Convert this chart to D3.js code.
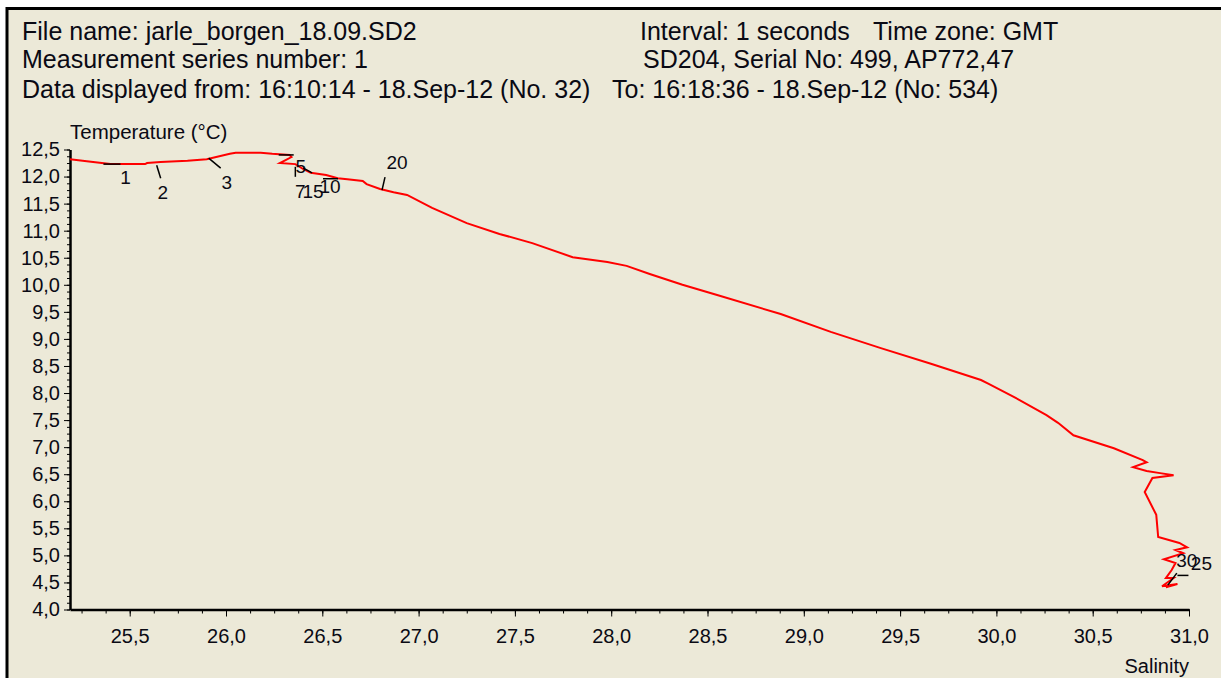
<!DOCTYPE html>
<html>
<head>
<meta charset="utf-8">
<script src="https://cdn.jsdelivr.net/npm/d3@7"></script>
<style>
  html, body { margin: 0; padding: 0; background: #ffffff; }
  svg { display: block; font-family: Arial, "Liberation Sans", sans-serif; }
</style>
</head>
<body>
<svg id="chart" width="1221" height="678"></svg>
<script>
// ---- header information ----
const headerLeft = [
  "File name: jarle_borgen_18.09.SD2",
  "Measurement series number: 1",
  "Data displayed from: 16:10:14 - 18.Sep-12 (No. 32)"
];
const headerRight = [
  "Interval: 1 seconds",
  "SD204, Serial No: 499, AP772,47",
  "To: 16:18:36 - 18.Sep-12 (No: 534)"
];
const headerTimeZone = "Time zone: GMT";

// ---- T/S profile (salinity vs temperature) ----
const salinity = [
  25.19, 25.31, 25.40, 25.58, 25.59, 25.66, 25.80, 25.90, 26.02, 26.05,
  26.18, 26.24, 26.33, 26.34, 26.28, 26.36, 26.40, 26.44, 26.52, 26.58,
  26.63, 26.71, 26.73, 26.80, 26.87, 26.94, 27.07, 27.25, 27.42, 27.59,
  27.80, 27.98, 28.08, 28.20, 28.37, 28.55, 28.88, 29.14, 29.40, 29.66,
  29.92, 29.96, 30.09, 30.26, 30.32, 30.40, 30.61, 30.76, 30.78, 30.71,
  30.78, 30.85, 30.92, 30.81, 30.77, 30.83, 30.84, 30.95, 30.99, 30.93,
  30.97, 30.87, 30.93, 30.91, 30.88, 30.92, 30.86, 30.94, 30.88
];
const temperature = [
  12.32, 12.27, 12.23, 12.23, 12.25, 12.27, 12.29, 12.32, 12.42, 12.44,
  12.44, 12.42, 12.40, 12.36, 12.25, 12.23, 12.14, 12.07, 12.03, 11.97,
  11.95, 11.92, 11.86, 11.77, 11.71, 11.66, 11.42, 11.14, 10.94, 10.77,
  10.51, 10.42, 10.35, 10.20, 10.00, 9.81, 9.46, 9.13, 8.83, 8.54,
  8.24, 8.17, 7.93, 7.59, 7.45, 7.22, 6.98, 6.76, 6.72, 6.63,
  6.56, 6.52, 6.48, 6.43, 6.17, 5.75, 5.34, 5.23, 5.15, 5.10,
  5.04, 4.93, 4.86, 4.73, 4.58, 4.58, 4.43, 4.47, 4.41
];

// ---- sample number markers along the profile ----
const markerNumbers = ["1", "2", "3", "5", "7", "15", "10", "20", "25", "30"];
const markerSalinity = [25.40, 25.64, 25.91, 26.31, 26.36, 26.40, 26.54, 26.81, 30.94, 30.89];
const markerTemperature = [12.23, 12.21, 12.34, 12.40, 12.18, 12.16, 11.96, 11.75, 4.63, 4.45];

// ---- axis ticks ----
const salinityTicks = [25.5, 26.0, 26.5, 27.0, 27.5, 28.0, 28.5, 29.0, 29.5, 30.0, 30.5, 31.0];
const temperatureTicks = [4.0, 4.5, 5.0, 5.5, 6.0, 6.5, 7.0, 7.5, 8.0, 8.5, 9.0, 9.5,
                          10.0, 10.5, 11.0, 11.5, 12.0, 12.5];

// leader line / label offsets (pixels) for each marker
const markerLayout = {
  "1":  { line: [-7, 0, 10, 0],  label: [15, 20] },
  "2":  { line: [0, 0, 4, 13],   label: [6, 34] },
  "3":  { line: [0, 0, 12, 10],  label: [18, 31] },
  "5":  { line: [-7, 0, 8, 0],   label: [15, 18] },
  "7":  { line: [0, 0, 0, 10],   label: [5, 31] },
  "15": { line: [0, 0, 9, 5],    label: [10, 30] },
  "10": { line: [-7, 0, 8, 0],   label: [0, 14] },
  "20": { line: [0, 0, 3, -13],  label: [15, -21] },
  "25": { line: [0, 0, 11, 0],   label: [24, -5] },
  "30": { line: [0, 0, 9, -12],  label: [19, -18] }
};

const fmt = d => d.toFixed(1).replace(".", ",");

const svg = d3.select("#chart");
const W = 1221, H = 678;

// panel background with the dark frame on its left and top edges
svg.append("rect")
  .attr("x", 7).attr("y", 8.5)
  .attr("width", W + 20).attr("height", H + 20)
  .attr("fill", "#ECE9D8")
  .attr("stroke", "#000").attr("stroke-width", 3);

// header lines
const hdr = svg.append("g").attr("font-size", 25).attr("fill", "#0a0a14");
const rowY = [40, 68, 98];
headerLeft.forEach((t, i) => hdr.append("text").attr("x", 22).attr("y", rowY[i]).text(t));
const rightX = [640, 643, 612];
headerRight.forEach((t, i) => hdr.append("text").attr("x", rightX[i]).attr("y", rowY[i]).text(t));
hdr.append("text").attr("x", 873).attr("y", rowY[0]).text(headerTimeZone);

// scales
const x = d3.scaleLinear().domain([d3.min(salinity), 31.0]).range([70, 1189]);
const y = d3.scaleLinear().domain([4.0, 12.5]).range([609.5, 149.5]);

// minor ticks (quarter steps between labelled ticks)
const xMinor = d3.range(25.25, 31.0001, 0.125).filter(v => v >= x.domain()[0]);
const yMinor = d3.range(4.0, 12.5001, 0.125);

const axisFont = 20;

// y axis
const gy = svg.append("g").attr("transform", "translate(70,0)");
gy.append("g")
  .call(d3.axisLeft(y).tickValues(yMinor).tickSize(3).tickFormat(""))
  .call(g => g.select(".domain").remove());
gy.append("g")
  .call(d3.axisLeft(y).tickValues(temperatureTicks).tickSize(6).tickSizeOuter(0)
        .tickPadding(4).tickFormat(fmt))
  .call(g => g.select(".domain").attr("stroke-width", 2.5))
  .call(g => g.selectAll("text").attr("font-size", axisFont).attr("fill", "#0a0a14")
        .attr("font-family", "Arial, 'Liberation Sans', sans-serif"));
gy.selectAll(".tick line").attr("stroke", "#000");

// x axis
const gx = svg.append("g").attr("transform", "translate(0,609.5)");
gx.append("g")
  .call(d3.axisBottom(x).tickValues(xMinor).tickSize(4).tickFormat(""))
  .call(g => g.select(".domain").remove());
gx.append("g")
  .call(d3.axisBottom(x).tickValues(salinityTicks).tickSize(7).tickSizeOuter(0)
        .tickPadding(12).tickFormat(fmt))
  .call(g => g.select(".domain").attr("stroke-width", 2.5))
  .call(g => g.selectAll("text").attr("font-size", axisFont).attr("fill", "#0a0a14")
        .attr("font-family", "Arial, 'Liberation Sans', sans-serif"));
gx.selectAll(".tick line").attr("stroke", "#000");

// axis titles
svg.append("text").attr("x", 70).attr("y", 139)
  .attr("font-size", 20.5).attr("fill", "#0a0a14").text("Temperature (°C)");
svg.append("text").attr("x", 1189).attr("y", 673).attr("text-anchor", "end")
  .attr("font-size", 20).attr("fill", "#0a0a14").text("Salinity");

// profile line
const pts = salinity.map((s, i) => [s, temperature[i]]);
svg.append("path")
  .datum(pts)
  .attr("fill", "none")
  .attr("stroke", "#FF0000")
  .attr("stroke-width", 2)
  .attr("stroke-linejoin", "miter")
  .attr("d", d3.line().x(d => x(d[0])).y(d => y(d[1])));

// sample number markers
const mk = svg.append("g");
markerNumbers.forEach((n, i) => {
  const px = x(markerSalinity[i]), py = y(markerTemperature[i]);
  const L = markerLayout[n];
  mk.append("line")
    .attr("x1", px + L.line[0]).attr("y1", py + L.line[1])
    .attr("x2", px + L.line[2]).attr("y2", py + L.line[3])
    .attr("stroke", "#000").attr("stroke-width", 1.5);
  mk.append("text")
    .attr("x", px + L.label[0]).attr("y", py + L.label[1])
    .attr("text-anchor", "middle")
    .attr("font-size", 19).attr("fill", "#0a0a14")
    .text(n);
});
</script>
</body>
</html>
